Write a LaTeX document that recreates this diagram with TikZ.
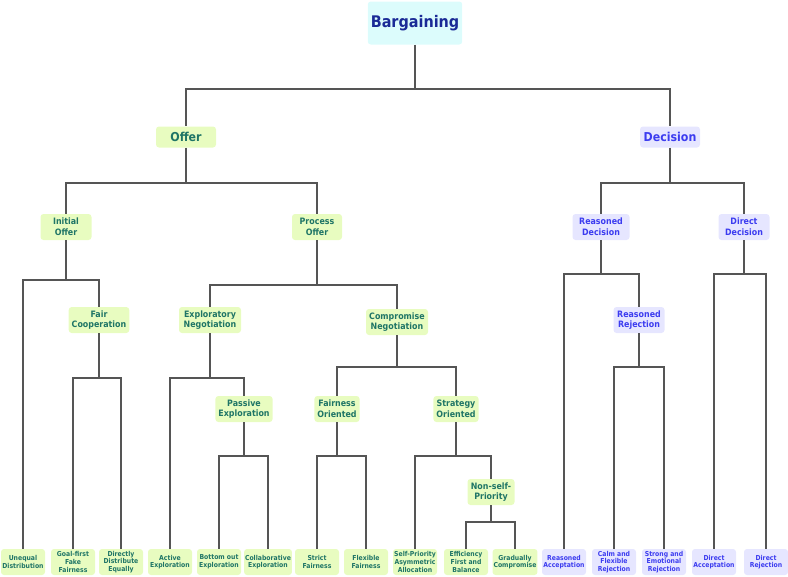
\documentclass[tikz,border=0pt]{standalone}
\usepackage{fontspec}
\setmainfont{DejaVu Sans Condensed}
\definecolor{gfill}{HTML}{E8FCC0}
\definecolor{gtext}{HTML}{1F7566}
\definecolor{pfill}{HTML}{E6E6FF}
\definecolor{ptext}{HTML}{3C3CF0}
\definecolor{rfill}{HTML}{DCFCFC}
\definecolor{rtext}{HTML}{1A2A96}
\definecolor{linegray}{HTML}{555555}
\tikzset{
  base/.style={rounded corners=2.25pt, align=center, inner xsep=2.25pt, inner ysep=1.5pt},
  rootbox/.style={base, fill=rfill, text=rtext, minimum width=68.25pt, minimum height=32.25pt, font=\bfseries\fontsize{12pt}{14pt}\selectfont},
  gtop/.style={base, fill=gfill, text=gtext, minimum width=45pt, minimum height=15.75pt, font=\bfseries\fontsize{9.2pt}{10pt}\selectfont},
  ptop/.style={base, fill=pfill, text=ptext, minimum width=45pt, minimum height=15.75pt, font=\bfseries\fontsize{9.2pt}{10pt}\selectfont},
  gmid/.style={base, fill=gfill, text=gtext, minimum height=19.5pt, font=\bfseries\fontsize{6.6pt}{8pt}\selectfont},
  pmid/.style={base, fill=pfill, text=ptext, minimum height=19.5pt, font=\bfseries\fontsize{6.6pt}{8pt}\selectfont},
  gleaf/.style={base, fill=gfill, text=gtext, minimum width=33pt, minimum height=19.5pt, inner xsep=0.75pt, font=\bfseries\fontsize{5.1pt}{5.7pt}\selectfont},
  pleaf/.style={base, fill=pfill, text=ptext, minimum width=33pt, minimum height=19.5pt, inner xsep=0.75pt, font=\bfseries\fontsize{5.1pt}{5.7pt}\selectfont},
  edge/.style={draw=linegray, line width=1pt}
}
\begin{document}
\begin{tikzpicture}[x=0.75pt,y=-0.75pt]
\useasboundingbox (0,0) rectangle (788,576);
% bus coordinates
\coordinate (b0) at (0,89);
\coordinate (b1) at (0,183);
\coordinate (b2) at (0,280);
\coordinate (b3) at (0,285);
\coordinate (b4) at (0,274);
\coordinate (b5) at (0,378);
\coordinate (b6) at (0,367);
\coordinate (b7) at (0,456);
\coordinate (b8) at (0,522);
% nodes
\node[rootbox] (root) at (415,23) {Bargaining};
\node[gtop] (off) at (186,137) {Offer};
\node[ptop] (dec) at (670,137) {Decision};
\node[gmid, minimum width=38.25pt] (ini) at (66,227) {Initial\\Offer};
\node[gmid, minimum width=37.5pt] (pro) at (317,227) {Process\\Offer};
\node[pmid, minimum width=42.75pt] (rd) at (601,227) {Reasoned\\Decision};
\node[pmid, minimum width=38.25pt] (dd) at (744,227) {Direct\\Decision};
\node[gmid, minimum width=44.25pt] (fc) at (99,320) {Fair\\Cooperation};
\node[gmid, minimum width=46.5pt] (en) at (210,320) {Exploratory\\Negotiation};
\node[gmid, minimum width=46.5pt] (cn) at (397,322) {Compromise\\Negotiation};
\node[pmid, minimum width=38.25pt] (rr) at (639,320) {Reasoned\\Rejection};
\node[gmid, minimum width=40.5pt] (pe) at (244,409) {Passive\\Exploration};
\node[gmid, minimum width=33pt] (fo) at (337,409) {Fairness\\Oriented};
\node[gmid, minimum width=33.75pt] (so) at (456,409) {Strategy\\Oriented};
\node[gmid, minimum width=35.25pt] (ns) at (491,492) {Non-self-\\Priority};
% leaves
\node[gleaf] (ud) at (23,562) {Unequal\\Distribution};
\node[gleaf] (gf) at (73,562) {Goal-first\\Fake\\Fairness};
\node[gleaf] (de) at (121,562) {Directly\\Distribute\\Equally};
\node[gleaf] (ae) at (170,562) {Active\\Exploration};
\node[gleaf] (be) at (219,562) {Bottom out\\Exploration};
\node[gleaf] (ce) at (268,562) {Collaborative\\Exploration};
\node[gleaf] (sf) at (317,562) {Strict\\Fairness};
\node[gleaf] (ff) at (366,562) {Flexible\\Fairness};
\node[gleaf] (sp) at (415,562) {Self-Priority\\Asymmetric\\Allocation};
\node[gleaf] (ef) at (466,562) {Efficiency\\First and\\Balance};
\node[gleaf] (gc) at (515,562) {Gradually\\Compromise};
\node[pleaf] (ra) at (564,562) {Reasoned\\Acceptation};
\node[pleaf] (cf) at (614,562) {Calm and\\Flexible\\Rejection};
\node[pleaf] (se) at (664,562) {Strong and\\Emotional\\Rejection};
\node[pleaf] (da) at (714,562) {Direct\\Acceptation};
\node[pleaf] (dr) at (766,562) {Direct\\Rejection};
% edges
\foreach \p/\c/\b in {root/off/b0, root/dec/b0,
  off/ini/b1, off/pro/b1, dec/rd/b1, dec/dd/b1,
  ini/ud/b2, ini/fc/b2, pro/en/b3, pro/cn/b3,
  rd/ra/b4, rd/rr/b4, dd/da/b4, dd/dr/b4,
  fc/gf/b5, fc/de/b5, en/ae/b5, en/pe/b5,
  cn/fo/b6, cn/so/b6, rr/cf/b6, rr/se/b6,
  pe/be/b7, pe/ce/b7, fo/sf/b7, fo/ff/b7, so/sp/b7, so/ns/b7,
  ns/ef/b8, ns/gc/b8}
  \draw[edge] (\p.south) |- (\c.north |- \b) -- (\c.north);
\end{tikzpicture}
\end{document}
